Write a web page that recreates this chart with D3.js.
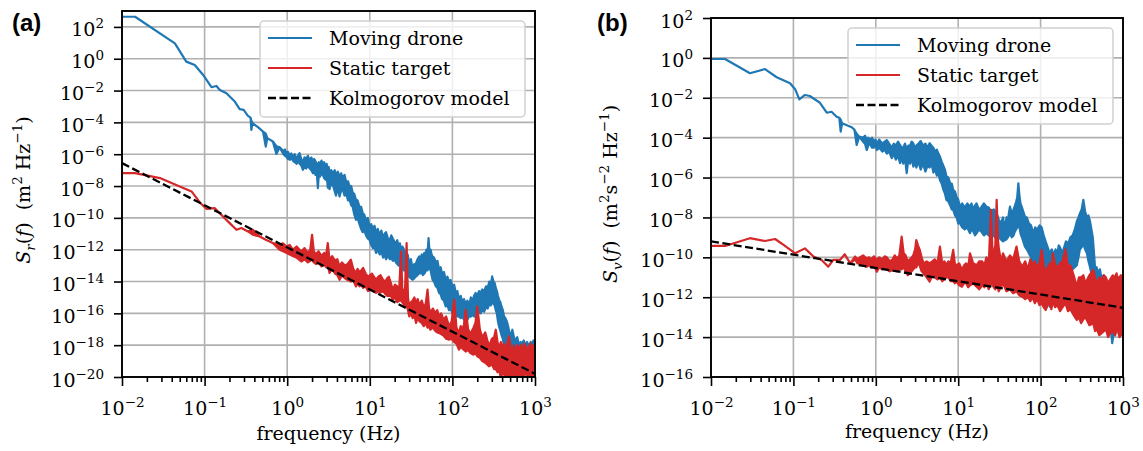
<!DOCTYPE html>
<html>
<head>
<meta charset="utf-8">
<script src="https://cdn.jsdelivr.net/npm/d3@7"></script>
<style>
  body { margin: 0; background: #fff; }
  text { font-family: "DejaVu Serif", serif; fill: #000; }
</style>
</head>
<body>
<svg width="1143" height="451"></svg>
<script>
// every row: [frequency (Hz), log10 upper edge, log10 lower edge (optional)]
const droneA = [
  [0.01, 2.64], [0.0144, 2.64], [0.0437, 0.97], [0.060, -0.18], [0.076, -0.39], [0.096, -1.02],
  [0.121, -1.79], [0.139, -1.71], [0.153, -1.96], [0.184, -2.17], [0.232, -2.69], [0.266, -3.17],
  [0.297, -3.21], [0.335, -3.59], [0.36, -3.7], [0.368, -3.9, -4.47], [0.38, -4.05], [0.443, -4.30],
  [0.51, -4.58], [0.55, -4.7, -5.52], [0.575, -4.99], [0.67, -5.20], [0.74, -5.5, -5.98], [0.81, -5.56],
  [0.9, -5.8, -6.0], [0.94, -5.7, -6.1], [0.975, -5.95, -6.15], [1.02, -5.85, -6.3], [1.08, -6.1, -6.35],
  [1.12, -5.95, -6.2], [1.17, -6.15, -6.4], [1.23, -6.0, -6.5], [1.3, -6.3, -6.6], [1.35, -6.1, -6.45],
  [1.41, -5.93, -6.6], [1.48, -6.3, -6.7], [1.55, -6.5, -6.98], [1.62, -6.2, -6.8], [1.7, -6.3, -6.9],
  [1.78, -6.1, -6.7], [1.87, -6.4, -6.9], [1.96, -6.2, -7.0], [2.05, -6.5, -7.2], [2.12, -6.3, -7.0],
  [2.2, -6.45, -7.3], [2.28, -6.6, -7.1], [2.35, -6.7, -8.13], [2.42, -6.5, -7.2], [2.5, -6.6, -7.4],
  [2.6, -6.4, -7.2], [2.7, -6.7, -7.3], [2.8, -6.5, -7.5], [2.9, -6.8, -7.6], [3.0, -6.6, -7.3],
  [3.1, -7.0, -8.1], [3.18, -6.8, -7.7], [3.25, -7.3, -8.2], [3.4, -7.0, -7.8], [3.6, -7.2, -8.0],
  [3.75, -7.0, -8.3], [3.9, -7.3, -8.6], [4.1, -7.1, -8.1], [4.3, -7.4, -8.66], [4.5, -7.2, -8.3],
  [4.7, -7.5, -8.2], [4.95, -7.3, -8.6], [5.2, -7.8, -8.5], [5.45, -7.7, -8.9], [5.7, -8.03, -8.87],
  [5.95, -8.0, -9.2], [6.2, -8.4, -9.3], [6.5, -8.5, -9.8], [6.8, -8.87, -10.12], [7.1, -8.9, -10.0],
  [7.5, -9.3, -10.4], [7.85, -9.3, -10.7], [8.2, -9.7, -10.9], [8.6, -9.8, -10.8], [9.0, -10.2, -11.1],
  [9.45, -10.0, -11.3], [9.9, -10.54, -11.37], [10.4, -10.4, -11.7], [10.9, -10.7, -11.9], [11.4, -10.5, -11.8],
  [11.9, -10.9, -12.2], [12.5, -10.7, -12.0], [13.2, -11.1, -12.3], [13.8, -10.8, -12.1], [14.5, -11.3, -12.5],
  [15.1, -11.0, -12.3], [15.7, -10.9, -12.6], [16.6, -11.3, -12.4], [17.5, -11.4, -12.6], [18.2, -11.1, -12.5],
  [19.0, -11.3, -12.7], [19.9, -11.5, -12.6], [20.8, -11.58, -12.82], [21.5, -11.4, -12.9], [22.3, -11.8, -13.0],
  [23.1, -11.6, -12.9], [23.9, -12.0, -13.26], [24.7, -11.8, -13.1], [25.5, -11.9, -13.3], [26.4, -12.1, -13.2],
  [27.4, -12.42, -13.46], [28.7, -12.3, -13.6], [30, -12.8, -13.7], [31.5, -12.6, -13.8], [33, -13.26, -13.89],
  [34.5, -12.9, -13.8], [36, -12.9, -13.7], [37.8, -12.6, -13.6], [39.7, -12.42, -13.47], [41, -12.6, -13.5],
  [42.5, -12.3, -13.4], [44, -12.5, -13.6], [45.7, -12.2, -13.5], [47, -12.4, -13.4], [48.5, -12.0, -13.2],
  [50, -12.3, -13.3], [51.4, -11.27, -13.0], [53, -12.2, -13.2], [54.5, -12.0, -13.3], [56, -12.3, -13.6],
  [57.5, -12.42, -13.89], [60, -12.5, -14.0], [63, -12.8, -14.3], [66, -12.7, -14.4], [69, -13.26, -14.72],
  [72, -13.1, -14.8], [75, -13.5, -15.1], [79, -13.4, -15.2], [83, -13.89, -15.56], [87, -13.7, -15.5],
  [91, -14.0, -15.8], [95, -13.9, -15.7], [100, -14.31, -15.98], [105, -14.2, -16.0], [110, -14.7, -16.1],
  [115, -14.6, -16.2], [120, -15.14, -16.19], [126, -14.9, -16.3], [132, -15.3, -16.2], [138, -15.1, -16.4],
  [145, -15.4, -16.3], [152, -15.2, -16.4], [159, -15.56, -16.19], [167, -15.0, -16.2], [175, -15.2, -16.1],
  [183, -14.9, -16.2], [191, -14.72, -15.98], [200, -14.9, -16.1], [210, -14.6, -15.9], [220, -14.7, -16.0],
  [230, -14.5, -15.8], [242, -14.6, -15.9], [255, -14.3, -15.6], [267, -14.4, -15.7], [280, -14.0, -15.4],
  [292, -14.2, -15.5], [303, -13.68, -15.2], [314, -14.0, -15.4], [325, -14.1, -15.5], [335, -14.4, -15.8],
  [345, -14.6, -16.0], [356, -14.9, -16.5], [367, -15.14, -16.82], [381, -15.3, -17.1], [395, -15.6, -17.4],
  [408, -15.8, -17.6], [422, -16.19, -18.07], [438, -16.3, -18.0], [455, -16.5, -18.3], [472, -16.8, -18.2],
  [490, -17.2, -18.4], [510, -17.4, -18.6], [532, -17.03, -18.49], [556, -17.5, -18.7], [580, -17.7, -18.8],
  [610, -17.5, -18.9], [644, -18.07, -18.91], [670, -17.8, -18.9], [700, -17.9, -18.8], [730, -17.7, -18.9],
  [760, -18.0, -18.9], [800, -17.8, -18.8], [851, -18.07, -18.7], [885, -17.8, -18.9], [920, -17.9, -18.8],
  [960, -17.7, -18.9], [1000, -18.1, -18.9]
];
const staticA = [
  [0.01, -7.19], [0.0144, -7.19], [0.0288, -7.5], [0.050, -8.03], [0.0695, -8.34], [0.0875, -9.03],
  [0.105, -9.43], [0.133, -9.39], [0.167, -9.91], [0.201, -10.33], [0.243, -10.75], [0.279, -10.64],
  [0.335, -10.85], [0.385, -10.75, -11.06], [0.464, -11.17], [0.55, -11.38], [0.67, -11.58],
  [0.81, -11.69, -12.0], [0.89, -11.6, -12.1], [0.975, -11.8, -12.2], [1.07, -11.7, -12.3], [1.17, -12.0, -12.4],
  [1.3, -11.8, -12.5], [1.48, -12.11, -12.74], [1.62, -11.9, -12.6], [1.78, -12.2, -12.8], [1.9, -12.0, -12.7],
  [2.0, -11.06, -12.6], [2.1, -12.1, -12.8], [2.24, -12.3, -12.9], [2.4, -12.1, -12.8], [2.6, -12.4, -13.05],
  [2.8, -12.2, -12.9], [2.95, -12.4, -13.1], [3.1, -11.58, -12.9], [3.25, -12.63, -13.46], [3.5, -12.4, -13.2],
  [3.8, -12.7, -13.5], [4.05, -12.6, -13.6], [4.3, -13.05, -13.89], [4.6, -12.8, -13.6], [5.0, -13.0, -13.8],
  [5.4, -12.9, -13.9], [5.9, -12.63, -14.0], [6.3, -13.2, -13.9], [6.8, -13.47, -14.31], [7.1, -13.2, -14.1],
  [7.5, -13.4, -14.3], [7.9, -13.3, -14.2], [8.3, -13.15, -14.4], [8.9, -13.5, -14.3], [9.5, -13.7, -14.6],
  [10.6, -13.5, -14.5], [11.9, -13.89, -14.72], [12.7, -13.7, -14.6], [13.5, -13.6, -14.7], [14.5, -13.9, -14.6],
  [15.5, -14.0, -14.8], [16.2, -13.8, -14.9], [17, -13.7, -14.9], [18, -14.1, -14.9], [18.9, -14.51, -15.14],
  [20.2, -14.2, -15.0], [21.5, -14.3, -15.3], [22.7, -14.5, -15.2], [23.9, -12.11, -15.2], [24.7, -14.4, -15.3],
  [25.5, -14.6, -15.4], [26.7, -14.5, -15.6], [27.9, -11.58, -15.5], [29, -15.0, -15.8], [30, -15.56, -16.19],
  [31.5, -15.3, -16.0], [33, -15.2, -16.3], [34.6, -15.0, -16.1], [36.3, -15.35, -16.6], [38, -15.1, -16.3],
  [40, -15.5, -16.5], [42.5, -15.2, -16.6], [45, -15.6, -16.8], [47.5, -15.4, -16.6], [50, -14.51, -16.9],
  [52, -15.6, -16.8], [54, -15.98, -17.03], [58, -15.7, -16.9], [62, -16.0, -17.1], [65.5, -15.8, -17.2],
  [69, -16.19, -17.24], [73, -16.0, -17.3], [78, -16.4, -17.4], [84, -16.2, -17.6], [91, -16.82, -17.65],
  [98, -16.5, -17.6], [105, -15.14, -17.8], [112, -16.9, -17.9], [120, -17.24, -18.28], [126, -16.8, -18.1],
  [132, -17.0, -18.2], [138, -16.7, -18.3], [145, -15.77, -18.4], [155, -17.0, -18.3], [165, -17.3, -18.5],
  [180, -16.9, -18.6], [190, -16.6, -18.5], [200, -15.56, -18.7], [215, -17.0, -18.8], [230, -17.5, -19.0],
  [250, -17.2, -19.1], [277, -18.07, -19.33], [300, -17.6, -19.2], [320, -17.5, -19.5], [335, -17.03, -19.5],
  [352, -17.8, -19.7], [370, -18.2, -19.6], [386, -17.8, -20.1], [403, -18.28, -19.7], [420, -17.9, -19.8],
  [440, -18.3, -20.1], [462, -17.9, -20.1], [484, -17.45, -19.9], [506, -18.1, -20.1], [530, -18.4, -20.1],
  [556, -18.0, -20.0], [584, -18.5, -19.9], [615, -18.0, -20.1], [650, -18.3, -19.8], [678, -18.0, -20.1],
  [705, -18.5, -20.1], [740, -17.9, -19.9], [780, -18.1, -19.7], [815, -18.3, -20.1], [851, -18.07, -19.74],
  [885, -17.9, -20.1], [920, -18.4, -20.1], [960, -18.0, -19.9], [1000, -18.5, -19.9]
];
const kolmoA = [[0.01, -6.56], [1000, -19.8]];

const droneB = [
  [0.01, -0.055], [0.0148, -0.055], [0.0297, -0.77], [0.0452, -0.56], [0.0627, -0.97], [0.091, -1.27],
  [0.105, -1.57], [0.118, -2.08], [0.138, -1.86], [0.158, -1.91], [0.21, -2.25], [0.254, -2.75],
  [0.29, -2.70], [0.335, -2.95], [0.36, -3.0], [0.375, -3.1, -3.70], [0.39, -3.28], [0.51, -3.48],
  [0.55, -3.6], [0.586, -3.8, -4.37], [0.63, -3.95], [0.70, -4.0, -4.2], [0.74, -3.9, -4.3],
  [0.776, -4.1, -4.62], [0.81, -4.0, -4.4], [0.85, -4.12, -4.3], [0.9, -4.0, -4.5], [0.95, -4.2, -4.5],
  [0.99, -4.1, -4.4], [1.03, -4.3, -4.62], [1.1, -4.1, -4.5], [1.2, -4.3, -4.7], [1.28, -4.2, -4.6],
  [1.36, -4.12, -4.8], [1.45, -4.3, -4.7], [1.56, -4.5, -5.03], [1.65, -4.3, -4.8], [1.75, -4.4, -5.1],
  [1.86, -4.2, -4.9], [1.97, -4.37, -5.28], [2.06, -4.5, -5.0], [2.15, -4.5, -5.3], [2.26, -4.3, -5.0],
  [2.37, -4.6, -5.78], [2.48, -4.4, -5.1], [2.6, -4.4, -5.3], [2.72, -4.2, -5.0], [2.85, -4.28, -5.45],
  [2.97, -4.5, -5.2], [3.1, -4.4, -5.5], [3.3, -4.3, -5.2], [3.5, -4.17, -5.6], [3.75, -4.4, -5.3],
  [4.0, -4.3, -5.7], [4.25, -4.5, -5.4], [4.5, -4.28, -5.5], [4.75, -4.4, -5.3], [5.0, -4.5, -5.75],
  [5.25, -4.7, -5.6], [5.5, -4.6, -5.9], [5.75, -4.8, -5.8], [6.0, -4.95, -6.12], [6.3, -5.2, -6.3],
  [6.6, -5.4, -6.6], [6.9, -5.6, -6.8], [7.2, -5.95, -7.12], [7.6, -6.0, -7.2], [8.0, -6.3, -7.4],
  [8.35, -6.3, -7.6], [8.7, -6.62, -7.62], [9.15, -6.7, -7.9], [9.6, -7.0, -8.0], [10.0, -7.1, -8.3],
  [10.5, -7.46, -8.29], [11.2, -7.3, -8.5], [12.0, -7.5, -8.6], [12.9, -7.3, -8.5], [13.9, -7.46, -8.79],
  [14.5, -7.3, -8.6], [15.2, -7.6, -8.7], [16, -7.4, -8.9], [16.7, -7.3, -8.8], [17.8, -7.6, -8.6],
  [19.0, -7.5, -8.7], [20.5, -7.3, -8.9], [22, -7.46, -8.79], [23.5, -7.5, -8.9], [25, -7.7, -9.0],
  [27, -7.6, -8.9], [29.3, -7.79, -9.13], [31, -8.1, -9.0], [33, -8.3, -9.1], [35, -8.0, -9.2],
  [37, -8.63, -9.13], [38.5, -8.0, -9.1], [40, -8.2, -9.0], [41.2, -7.8, -8.9], [42.5, -7.46, -8.79],
  [44.7, -7.8, -9.0], [47, -7.6, -8.9], [48.8, -7.4, -8.7], [50.5, -7.2, -8.6], [52, -7.0, -8.5],
  [53.7, -6.29, -8.4], [55.3, -6.9, -8.5], [57, -7.3, -8.8], [60.5, -7.6, -9.1], [64.6, -7.96, -9.46],
  [68, -8.0, -9.6], [72, -8.3, -9.8], [76.5, -8.4, -10.0], [81.5, -8.79, -10.47], [86, -8.5, -10.2],
  [91, -8.6, -10.3], [97, -8.4, -10.6], [103, -8.5, -10.8], [109, -8.9, -11.2], [115, -9.2, -11.5],
  [122, -9.5, -11.9], [129, -9.8, -12.47], [137, -9.6, -12.0], [145, -9.9, -11.8], [152, -9.6, -11.5],
  [160, -9.8, -11.3], [166, -9.4, -11.0], [172, -9.5, -10.9], [181, -9.7, -11.1], [190, -9.6, -11.2],
  [203, -9.2, -11.0], [217, -9.3, -11.1], [230, -9.0, -10.8], [245, -8.9, -10.6], [260, -8.6, -10.5],
  [275, -8.2, -10.4], [288, -8.0, -10.0], [300, -7.8, -9.6], [315, -7.6, -9.5], [330, -7.12, -9.3],
  [347, -7.7, -9.6], [365, -8.0, -9.8], [381, -7.9, -10.2], [398, -8.2, -10.5], [414, -8.6, -10.8],
  [430, -9.0, -11.0], [443, -9.7, -11.6], [457, -10.47, -12.13], [478, -10.5, -12.2], [500, -10.8, -12.4],
  [525, -10.6, -12.8], [550, -11.1, -13.0], [580, -10.9, -13.2], [610, -11.3, -13.6], [650, -11.2, -13.4],
  [692, -11.5, -13.8], [715, -11.3, -13.6], [740, -11.7, -14.3], [770, -11.4, -13.8], [800, -11.1, -13.9],
  [835, -11.3, -13.6], [870, -11.0, -13.4], [905, -11.4, -13.7], [940, -11.2, -13.6], [970, -11.0, -13.9],
  [1000, -11.3, -13.8]
];
const staticB = [
  [0.01, -9.43], [0.0148, -9.43], [0.0297, -9.04], [0.0452, -9.18], [0.060, -9.08], [0.076, -9.38],
  [0.105, -9.8], [0.138, -9.55], [0.175, -9.96], [0.22, -10.13], [0.265, -10.47], [0.305, -10.13],
  [0.367, -10.13], [0.42, -9.85], [0.49, -10.3], [0.56, -9.96, -10.1], [0.6, -10.1, -10.3], [0.64, -10.0, -10.3],
  [0.7, -9.9, -10.4], [0.776, -10.05, -10.47], [0.83, -10.0, -10.4], [0.88, -10.1, -10.5], [0.95, -9.95, -10.4],
  [1.03, -10.13, -10.72], [1.1, -10.0, -10.5], [1.2, -10.1, -10.6], [1.28, -9.95, -10.5], [1.36, -10.0, -10.6],
  [1.48, -10.2, -10.7], [1.6, -10.1, -10.65], [1.7, -9.9, -10.5], [1.8, -10.05, -10.7], [1.93, -9.9, -10.6],
  [2.06, -8.96, -10.6], [2.18, -9.8, -10.5], [2.3, -9.9, -10.7], [2.45, -10.2, -10.9], [2.6, -10.1, -10.8],
  [2.85, -9.9, -10.6], [3.0, -9.6, -10.5], [3.1, -9.13, -10.5], [3.25, -9.4, -10.3], [3.4, -9.6, -10.4],
  [3.6, -10.0, -10.7], [3.8, -10.3, -10.8], [4.15, -10.2, -11.0], [4.5, -10.3, -11.22], [4.85, -10.2, -10.9],
  [5.2, -10.1, -11.0], [5.6, -10.3, -11.1], [6.0, -9.46, -11.0], [6.4, -10.3, -11.2], [6.8, -10.2, -11.1],
  [7.2, -10.4, -11.0], [7.6, -10.2, -11.0], [8.1, -10.3, -11.2], [8.7, -9.63, -11.2], [9.1, -10.3, -11.3],
  [9.5, -10.4, -11.2], [10.3, -10.3, -11.4], [11.1, -10.63, -11.47], [11.8, -10.4, -11.3], [12.5, -10.3, -11.3],
  [13.2, -10.5, -11.5], [13.9, -9.8, -11.4], [15.2, -10.3, -11.3], [16.7, -10.4, -11.47], [18, -10.2, -11.6],
  [19.5, -10.2, -11.4], [20.8, -10.4, -11.5], [22, -10.0, -11.3], [23.5, -10.3, -11.6], [25, -7.62, -11.2],
  [26, -9.6, -11.4], [27, -9.8, -11.5], [28.2, -9.4, -11.6], [29.3, -7.12, -11.5], [30.2, -9.0, -11.5],
  [31, -9.5, -11.7], [33, -10.2, -11.5], [35, -9.8, -11.3], [38.5, -10.2, -11.7], [42.5, -9.9, -11.6],
  [46.5, -10.1, -11.8], [51, -9.46, -11.7], [55, -10.2, -11.9], [60, -10.47, -11.97], [65, -10.2, -12.1],
  [70, -10.6, -12.0], [75, -10.1, -12.2], [80, -10.4, -12.0], [85, -10.2, -12.3], [91, -10.5, -12.1],
  [97, -10.3, -12.4], [103, -9.63, -12.3], [109, -10.4, -12.5], [115, -10.8, -12.64], [122, -10.5, -12.4],
  [130, -10.3, -12.3], [135, -10.6, -12.6], [141, -9.8, -12.2], [150, -10.4, -12.5], [160, -10.5, -12.4],
  [172, -10.3, -12.7], [185, -10.2, -12.5], [200, -9.6, -12.3], [215, -10.5, -12.7], [230, -10.4, -12.6],
  [252, -10.9, -12.9], [275, -11.47, -13.14], [292, -11.0, -13.0], [310, -11.0, -13.3], [330, -10.9, -13.1],
  [350, -11.3, -13.0], [390, -10.9, -13.4], [436, -10.63, -13.3], [458, -11.0, -13.7], [480, -11.4, -13.6],
  [515, -11.0, -13.9], [550, -11.13, -13.8], [585, -10.9, -13.7], [620, -11.0, -13.6], [660, -11.3, -14.0],
  [700, -11.1, -13.8], [750, -10.9, -13.7], [800, -11.0, -13.9], [835, -10.8, -13.6], [870, -11.2, -13.7],
  [905, -11.0, -14.0], [940, -10.9, -13.9], [970, -11.0, -13.6], [1000, -11.1, -13.8]
];
const kolmoB = [[0.01, -9.2], [1000, -12.53]];

const freqTicks = [0.01, 0.1, 1, 10, 100, 1000];
const freqExps = [-2, -1, 0, 1, 2, 3];
const yExpA = [-20, -18, -16, -14, -12, -10, -8, -6, -4, -2, 0, 2];
const yExpB = [-16, -14, -12, -10, -8, -6, -4, -2, 0, 2];
const seriesNames = ["Moving drone", "Static target", "Kolmogorov model"];
const seriesColors = ["#1f77b4", "#d62728", "#000000"];

const svg = d3.select("svg");

function toPts(rows) {
  return rows.map(r => ({f: r[0], hi: Math.pow(10, r[1]), lo: Math.pow(10, r.length > 2 ? r[2] : r[1])}));
}

function powLabel(sel, exp) {
  sel.text(null);
  sel.append("tspan").text("10");
  sel.append("tspan").attr("dy", -8).style("font-size", "13.5px")
    .text(String(exp).replace("-", "\u2212"));
}

// parts: [text, italic, baseline shift px, font size, dx]
function richLabel(sel, parts) {
  let prev = 0;
  parts.forEach(p => {
    const t = sel.append("tspan").text(p[0]);
    if (p[1]) t.style("font-style", "italic");
    if (p[2] !== prev) t.attr("dy", p[2] - prev);
    if (p[3]) t.style("font-size", p[3] + "px");
    if (p[4]) t.attr("dx", p[4]);
    prev = p[2];
  });
}

function panel(p) {
  const g = svg.append("g");
  const x = d3.scaleLog().domain([0.01, 1000]).range([p.left, p.right]);
  const y = d3.scaleLog().domain([Math.pow(10, p.yExp[0]), Math.pow(10, p.yTop)]).range([p.bottom, p.top]);
  const yVals = p.yExp.map(e => Math.pow(10, e));

  g.append("clipPath").attr("id", "clip" + p.id)
    .append("rect").attr("x", p.left).attr("y", p.top)
    .attr("width", p.right - p.left).attr("height", p.bottom - p.top);

  // grid
  g.append("g").selectAll("line").data(freqTicks).join("line")
    .attr("x1", d => x(d)).attr("x2", d => x(d)).attr("y1", p.top).attr("y2", p.bottom)
    .attr("stroke", "#b0b0b0").attr("stroke-width", 1.6);
  g.append("g").selectAll("line").data(yVals).join("line")
    .attr("y1", d => y(d)).attr("y2", d => y(d)).attr("x1", p.left).attr("x2", p.right)
    .attr("stroke", "#b0b0b0").attr("stroke-width", 1.6);

  // data
  const area = d3.area().x(d => x(d.f)).y0(d => y(d.lo)).y1(d => y(d.hi));
  const plot = g.append("g").attr("clip-path", "url(#clip" + p.id + ")");
  [p.drone, p.stat].forEach((rows, i) => {
    plot.append("path").datum(toPts(rows)).attr("d", area)
      .attr("fill", seriesColors[i]).attr("stroke", seriesColors[i])
      .attr("stroke-width", 2.2).attr("stroke-linejoin", "round");
  });
  const line = d3.line().x(d => x(d[0])).y(d => y(Math.pow(10, d[1])));
  plot.append("path").datum(p.kolmo).attr("d", line)
    .attr("fill", "none").attr("stroke", "#000").attr("stroke-width", 2.3)
    .attr("stroke-dasharray", "8,3.5");

  // axes
  const xa = g.append("g").attr("transform", "translate(0," + p.bottom + ")")
    .call(d3.axisBottom(x).tickValues(freqTicks).tickSize(9).tickSizeOuter(0));
  xa.selectAll(".tick text").attr("y", 38).attr("dy", null).style("font-size", "19px")
    .each(function (d, i) { powLabel(d3.select(this), freqExps[i]); });
  const minor = x.ticks().filter(d => freqTicks.indexOf(d) < 0);
  g.append("g").attr("transform", "translate(0," + p.bottom + ")")
    .call(d3.axisBottom(x).tickValues(minor).tickSize(5).tickFormat(""));

  const ya = g.append("g").attr("transform", "translate(" + p.left + ",0)")
    .call(d3.axisLeft(y).tickValues(yVals).tickSize(8).tickSizeOuter(0));
  ya.selectAll(".tick text").attr("x", -18).attr("dy", null).attr("y", 9).style("font-size", "19px")
    .each(function (d, i) { powLabel(d3.select(this), p.yExp[i]); });

  g.selectAll(".domain").remove();
  g.selectAll(".tick line").attr("stroke", "#000").attr("stroke-width", 1.6);

  g.append("rect").attr("x", p.left).attr("y", p.top)
    .attr("width", p.right - p.left).attr("height", p.bottom - p.top)
    .attr("fill", "none").attr("stroke", "#000").attr("stroke-width", 1.9);

  // axis titles
  g.append("text").attr("x", (p.left + p.right) / 2).attr("y", p.xTitleY)
    .attr("text-anchor", "middle").style("font-size", "19px").text("frequency (Hz)");
  const yt = g.append("text").attr("text-anchor", "middle").style("font-size", "19px")
    .attr("transform", "translate(" + p.yTitleX + "," + p.yTitleY + ") rotate(-90)");
  richLabel(yt, p.yTitle);

  // legend
  const lg = g.append("g").attr("transform", "translate(" + p.legend[0] + "," + p.legend[1] + ")");
  lg.append("rect").attr("width", 265).attr("height", 96).attr("rx", 4)
    .attr("fill", "#fff").attr("fill-opacity", 0.8).attr("stroke", "#d0d0d0").attr("stroke-width", 1.5);
  seriesNames.forEach((name, i) => {
    const ry = 17 + 30 * i;
    lg.append("line").attr("x1", 8).attr("x2", 52).attr("y1", ry).attr("y2", ry)
      .attr("stroke", seriesColors[i]).attr("stroke-width", i === 2 ? 2.3 : 2.2)
      .attr("stroke-dasharray", i === 2 ? "8,3.5" : null);
    lg.append("text").attr("x", 69).attr("y", ry + 7).style("font-size", "19px").text(name);
  });

  // panel letter
  svg.append("text").attr("x", p.letterX).attr("y", 31)
    .style("font-family", "'Liberation Sans', Arial, sans-serif").style("font-weight", "bold")
    .style("font-size", "24px").text(p.letter);
}

panel({
  id: "a", letter: "(a)", letterX: 12,
  left: 122, right: 535, top: 11, bottom: 377, yExp: yExpA, yTop: 3,
  drone: droneA, stat: staticA, kolmo: kolmoA,
  legend: [260, 21], xTitleY: 440, yTitleX: 30, yTitleY: 190,
  yTitle: [["S", true, 0], ["r", true, 5, 13.5], ["(", false, 0], ["f", true, 0], [")", false, 0],
           ["(m", false, 0, null, 12], ["2", false, -8, 13.5], [" Hz", false, 0], ["\u22121", false, -8, 13.5],
           [")", false, 0]]
});
panel({
  id: "b", letter: "(b)", letterX: 597,
  left: 711, right: 1123, top: 18, bottom: 377, yExp: yExpB, yTop: 2,
  drone: droneB, stat: staticB, kolmo: kolmoB,
  legend: [848, 28], xTitleY: 438, yTitleX: 617, yTitleY: 194,
  yTitle: [["S", true, 0], ["v", true, 5, 13.5], ["(", false, 0], ["f", true, 0], [")", false, 0],
           ["(m", false, 0, null, 12], ["2", false, -8, 13.5], ["s", false, 0], ["\u22122", false, -8, 13.5],
           [" Hz", false, 0], ["\u22121", false, -8, 13.5], [")", false, 0]]
});
</script>
</body>
</html>
